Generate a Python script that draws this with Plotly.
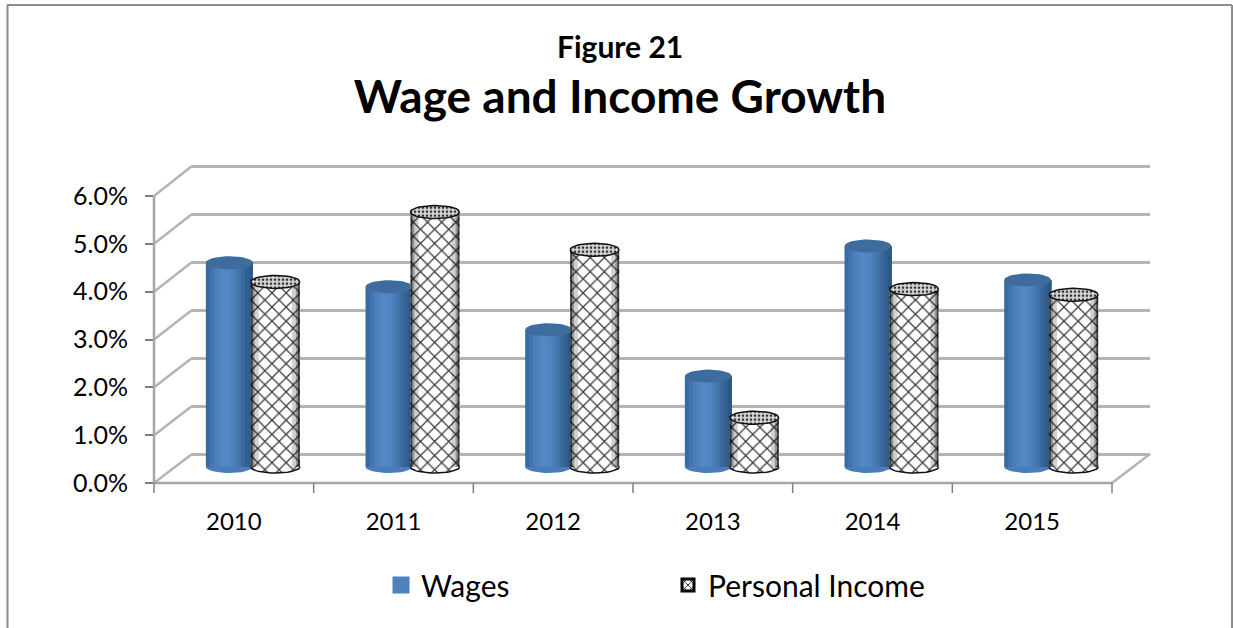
import math
import plotly.graph_objects as go

categories = ["2010", "2011", "2012", "2013", "2014", "2015"]
wages = [4.27, 3.77, 2.87, 1.90, 4.62, 3.91]
personal_income = [3.87, 5.33, 4.54, 1.03, 3.72, 3.60]
y_ticks = [0, 1, 2, 3, 4, 5, 6]
y_tick_labels = ["0.0%", "1.0%", "2.0%", "3.0%", "4.0%", "5.0%", "6.0%"]

W, H = 1233, 628
FONT = "Lato"
GRID = "#b4b4b4"
AXIS = "#a6a6a6"

def px(v):
    return v / W

def py(v):
    return 1 - v / H

FRONT = (154, 1112, 483, 196)
BAR = (173, 1131, 467, 180)
BACK = (192, 1150, 454, 166)
CAT_PX = (FRONT[1] - FRONT[0]) / len(categories)
VAL_PX = (FRONT[2] - FRONT[3]) / 6
PAD = 0.3  # value units kept around the hidden planes so ellipses and end gridlines are not clipped
idx = list(range(len(categories)))

fig = go.Figure()

# transparent traces that give the back wall and the front axis their subplots
fig.add_trace(go.Bar(x=idx, y=wages, xaxis="x", yaxis="y", marker=dict(opacity=0),
                     showlegend=False, hoverinfo="skip"))
fig.add_trace(go.Bar(x=categories, y=wages, xaxis="x3", yaxis="y3", marker=dict(opacity=0),
                     showlegend=False, hoverinfo="skip"))

def ellipse(cx, val, half_w_px, half_h_px):
    xs, ys = [], []
    for i in range(37):
        t = 2 * math.pi * i / 36
        xs.append(cx + half_w_px / CAT_PX * math.cos(t))
        ys.append(val + half_h_px / VAL_PX * math.sin(t))
    return xs, ys

def add_ellipses(vals, off_px, half_w_px, half_h_px, z, **kw):
    for i, v in zip(idx, vals):
        xs, ys = ellipse(i + off_px / CAT_PX, v, half_w_px, half_h_px)
        fig.add_trace(go.Scatter(x=xs, y=ys, xaxis="x2", yaxis="y2", mode="lines", fill="toself",
                                 showlegend=False, hoverinfo="skip", zorder=z, **kw))

def strip(vals, x0_px, x1_px, color, z):
    fig.add_trace(go.Bar(x=idx, y=vals, xaxis="x2", yaxis="y2", offset=x0_px / CAT_PX,
                         width=(x1_px - x0_px) / CAT_PX, marker=dict(color=color, line=dict(width=0)),
                         showlegend=False, hoverinfo="skip", zorder=z))

# --- Wages
W_L, W_R = -47, 0
fig.add_trace(go.Bar(name="Wages", x=idx, y=wages, xaxis="x2", yaxis="y2", offset=(W_L + 8) / CAT_PX,
                     width=(W_R - W_L - 16) / CAT_PX,
                     marker=dict(color="#4f81bd", line=dict(color="#4f81bd", width=5)),
                     hoverinfo="skip", zorder=1))
add_ellipses([0] * 6, (W_L + W_R) / 2, 23.5, 6, 2, line=dict(color="#4a7cb8", width=0), fillcolor="#4a7cb8")
wage_shades = ["#3a6aa3", "#4274b0", "#4a7db9", "#4f83c0", "#5387c5", "#5387c5", "#5083c1",
               "#4a7cb7", "#4373ab", "#3b699d", "#33608f", "#2d5784"]
step = (W_R - W_L) / len(wage_shades)
for k, c in enumerate(wage_shades):
    strip(wages, W_L + k * step, W_R, c, 3)
add_ellipses(wages, (W_L + W_R) / 2, 23.5, 6.5, 4, line=dict(color="#3e6c9f", width=0), fillcolor="#3e6c9f")

# --- Personal income
P_L, P_R = -2, 47
hatch = dict(shape="x", size=10, solidity=0.24, fgcolor="#3c3c3c", bgcolor="#ffffff")
fig.add_trace(go.Bar(name="Personal Income", x=idx, y=personal_income, xaxis="x2", yaxis="y2",
                     offset=(P_L + 8) / CAT_PX, width=(P_R - P_L - 16) / CAT_PX,
                     marker=dict(color="#ffffff", pattern=dict(shape="x", size=6, solidity=0.3,
                                                               fgcolor="#000000", bgcolor="#ffffff"),
                                 line=dict(color="#000000", width=3)),
                     hoverinfo="skip", zorder=5))
add_ellipses([0] * 6, (P_L + P_R) / 2, 24.5, 6, 6, line=dict(color="#111111", width=1.5), fillcolor="#ffffff",
             fillpattern=hatch)
fig.add_trace(go.Bar(x=idx, y=personal_income, xaxis="x2", yaxis="y2", offset=P_L / CAT_PX,
                     width=(P_R - P_L) / CAT_PX,
                     marker=dict(color="#ffffff", pattern=hatch, line=dict(width=0)),
                     showlegend=False, hoverinfo="skip", zorder=7))
edges = [(0, 2, "rgba(0,0,0,0.75)"), (2, 4, "rgba(0,0,0,0.4)"), (4, 8, "rgba(0,0,0,0.18)")]
for a, b, c in edges:
    strip(personal_income, P_L + a, P_L + b, c, 8)
    strip(personal_income, P_R - b, P_R - a, c, 8)
add_ellipses(personal_income, (P_L + P_R) / 2, 24.5, 6.5, 9, line=dict(color="#111111", width=1.5),
             fillcolor="#bdbdbd", fillpattern=dict(shape=".", size=4, solidity=0.35, fgcolor="#333333",
                                                   bgcolor="#d8d8d8"))

# --- Decorative 3D wall, axis lines, category ticks and border lines
shapes = []
def line(x0, y0, x1, y1, color=AXIS, width=2.5):
    shapes.append(dict(type="line", xref="paper", yref="paper", x0=px(x0), y0=py(y0), x1=px(x1), y1=py(y1),
                       line=dict(color=color, width=width), layer="below"))

for v in y_ticks:
    line(FRONT[0], FRONT[2] - v * VAL_PX, BACK[0], BACK[2] - v * (BACK[2] - BACK[3]) / 6, GRID, 2.5)
line(FRONT[1], FRONT[2], BACK[1], BACK[2], GRID, 2.5)
line(FRONT[0], FRONT[2], FRONT[1], FRONT[2], AXIS, 2.5)
line(FRONT[0], FRONT[2], FRONT[0], FRONT[3], AXIS, 2.5)
for k in range(len(categories) + 1):
    line(FRONT[0] + k * CAT_PX, FRONT[2], FRONT[0] + k * CAT_PX, FRONT[2] + 10, "#808080", 1.5)
line(7.5, 628, 7.5, 5, "#8c8c8c", 2)
line(7, 5, 1232, 5, "#8c8c8c", 2)
line(1232, 5, 1232, 628, "#8c8c8c", 2)

back_val_px = (BACK[2] - BACK[3]) / 6
fig.update_layout(
    template="none",
    width=W, height=H, autosize=False,
    margin=dict(l=0, r=0, t=0, b=0, pad=0),
    paper_bgcolor="#ffffff", plot_bgcolor="rgba(0,0,0,0)",
    barmode="overlay",
    font=dict(family=FONT, color="#000000"),
    title=dict(text="<b>Wage and Income Growth</b>", x=620 / W, xanchor="center", y=py(97), yanchor="middle",
               font=dict(family=FONT, size=46, color="#000000")),
    annotations=[dict(text="<b>Figure 21</b>", xref="paper", yref="paper", x=px(620), y=py(46), showarrow=False,
                      xanchor="center", yanchor="middle", font=dict(family=FONT, size=30, color="#000000"))],
    shapes=shapes,
    showlegend=True,
    legend=dict(orientation="h", x=px(381), xanchor="left", y=py(585), yanchor="middle",
                entrywidth=242, entrywidthmode="pixels", traceorder="normal",
                font=dict(family=FONT, size=30, color="#000000"), bgcolor="rgba(0,0,0,0)"),
    # back wall
    xaxis=dict(domain=[px(BACK[0]), px(BACK[1])], range=[-0.5, 5.5], visible=False, anchor="y"),
    yaxis=dict(domain=[py(BACK[2] + PAD * back_val_px), py(BACK[3] - PAD * back_val_px)], range=[-PAD, 6 + PAD],
               tickvals=y_ticks, showticklabels=False, showgrid=True, gridcolor=GRID, gridwidth=3,
               zeroline=False, showline=False, ticks="", anchor="x"),
    # bar plane
    xaxis2=dict(domain=[px(BAR[0]), px(BAR[1])], range=[-0.5, 5.5], visible=False, anchor="y2"),
    yaxis2=dict(domain=[py(BAR[2] + PAD * VAL_PX), py(BAR[3] - PAD * VAL_PX)], range=[-PAD, 6 + PAD],
                visible=False, anchor="x2"),
    # front axes
    xaxis3=dict(domain=[px(FRONT[0]), px(FRONT[1])], type="category", categoryorder="array", categoryarray=categories,
                range=[-0.5, 5.5], ticks="outside", ticklen=17, tickwidth=1, tickcolor="rgba(0,0,0,0)",
                showline=False, showgrid=False, anchor="y3",
                tickfont=dict(family=FONT, size=24, color="#000000")),
    yaxis3=dict(domain=[py(FRONT[2]), py(FRONT[3])], range=[0, 6], tickvals=y_ticks, ticktext=y_tick_labels,
                ticks="outside", ticklen=8, tickwidth=1.5, tickcolor="#808080", showline=False,
                showgrid=False, zeroline=False, anchor="x3", ticklabelstandoff=12,
                tickfont=dict(family=FONT, size=25, color="#000000")),
)

fig.write_html("out.html", config=dict(displayModeBar=False),
               post_script="document.body.style.margin='0';document.documentElement.style.overflow='hidden';")
